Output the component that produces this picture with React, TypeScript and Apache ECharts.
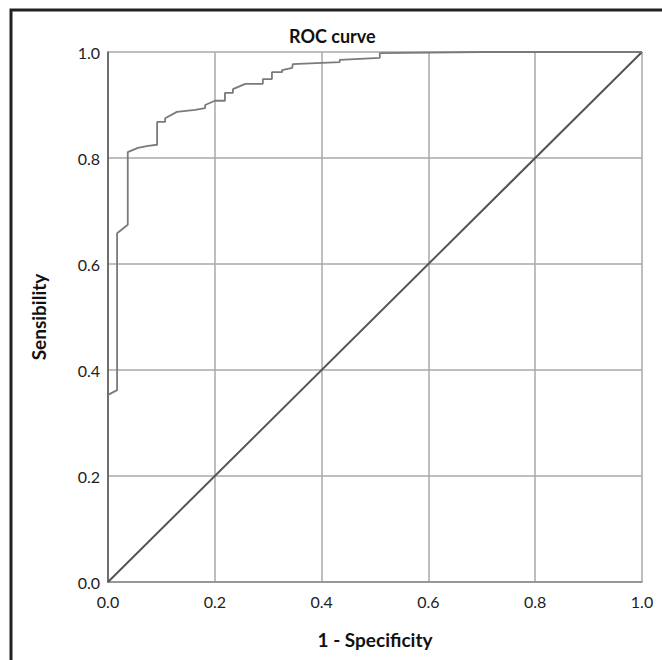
import React, { useEffect, useRef } from "react";
import * as echarts from "echarts";

const fpr = [0, 0.017, 0.017, 0.037, 0.037, 0.056, 0.075, 0.092, 0.092, 0.107, 0.107, 0.129, 0.163, 0.182, 0.182, 0.2, 0.219, 0.219, 0.234, 0.234, 0.257, 0.29, 0.29, 0.307, 0.307, 0.326, 0.326, 0.345, 0.346, 0.434, 0.434, 0.509, 0.509, 0.7, 1.0];
const tpr = [0.353, 0.362, 0.658, 0.674, 0.811, 0.819, 0.823, 0.825, 0.868, 0.868, 0.875, 0.887, 0.891, 0.894, 0.9, 0.908, 0.908, 0.923, 0.923, 0.93, 0.94, 0.94, 0.949, 0.949, 0.962, 0.962, 0.966, 0.97, 0.977, 0.981, 0.985, 0.989, 0.998, 1.0, 1.0];
const diagX = [0, 1];
const diagY = [0, 1];

const FONT = "Lato";

export default function App() {
  const ref = useRef<HTMLDivElement>(null);
  useEffect(() => {
    if (!ref.current) return;
    const chart = echarts.init(ref.current, null, { renderer: "svg" });
    const axisCommon = {
      type: "value" as const,
      min: 0,
      max: 1,
      interval: 0.2,
      nameLocation: "middle" as const,
      nameTextStyle: { fontFamily: FONT, fontWeight: "bold" as const, fontSize: 19, color: "#111" },
      axisTick: { show: false },
      splitLine: { show: true, lineStyle: { color: "#a8a8a8", width: 1.5 } },
      axisLabel: {
        fontFamily: FONT,
        fontSize: 16,
        color: "#222",
        formatter: (v: number) => v.toFixed(1),
      },
    };
    chart.setOption({
      animation: false,
      backgroundColor: "#ffffff",
      title: {
        text: "ROC curve",
        left: 284,
        top: 22,
        textStyle: { fontFamily: FONT, fontWeight: "bold", fontSize: 18, color: "#111" },
      },
      graphic: [
        {
          type: "rect",
          shape: { x: 11, y: 10, width: 700, height: 700 },
          style: { fill: "none", stroke: "#222", lineWidth: 3 },
          silent: true,
        },
      ],
      grid: { left: 108, top: 52, width: 534, height: 530 },
      xAxis: {
        ...axisCommon,
        name: "1 - Specificity",
        nameGap: 48,
        axisLine: { show: true, lineStyle: { color: "#8a8a8a", width: 1.5 } },
        axisLabel: { ...axisCommon.axisLabel, margin: 11 },
      },
      yAxis: {
        ...axisCommon,
        name: "Sensibility",
        nameGap: 60,
        axisLine: { show: true, lineStyle: { color: "#555", width: 1.5 } },
        axisLabel: { ...axisCommon.axisLabel, margin: 8 },
      },
      series: [
        {
          type: "line",
          data: diagX.map((x, i) => [x, diagY[i]]),
          showSymbol: false,
          lineStyle: { color: "#555", width: 2 },
          silent: true,
        },
        {
          type: "line",
          data: fpr.map((x, i) => [x, tpr[i]]),
          showSymbol: false,
          lineStyle: { color: "#7a7a7a", width: 1.8 },
          silent: true,
        },
      ],
    });
    return () => chart.dispose();
  }, []);
  return (
    <div
      ref={ref}
      style={{ position: "fixed", left: 0, top: 0, width: 662, height: 660 }}
    />
  );
}
